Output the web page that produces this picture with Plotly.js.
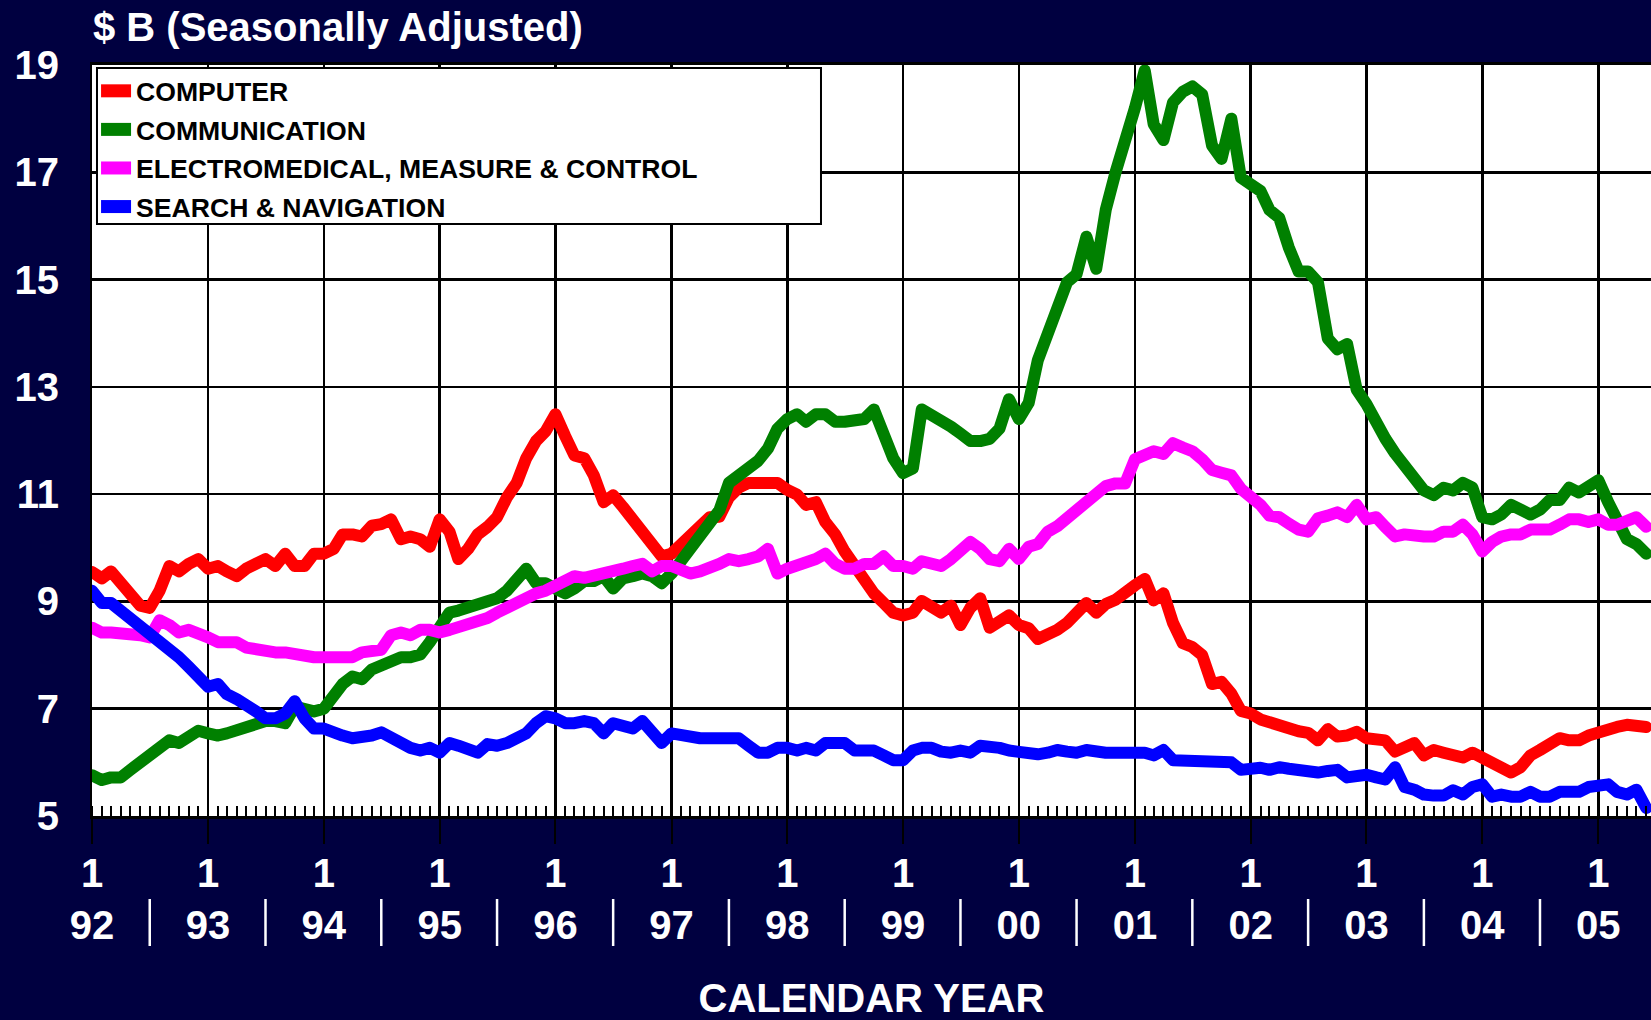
<!DOCTYPE html>
<html>
<head>
<meta charset="utf-8">
<script src="https://cdn.plot.ly/plotly-3.0.1.min.js"></script>
<style>
html, body { margin: 0; padding: 0; background: #000040; }
#chart { width: 1651px; height: 1020px; }
.scatterlayer .js-line { stroke-linejoin: round; stroke-linecap: round; }
.legend .legendlines path { stroke-width: 13px !important; }
</style>
</head>
<body>
<div id="chart"></div>
<script>
// ---- data (monthly, Jan 1992 .. Jun 2005), $ billions, seasonally adjusted ----
const startYear = 1992;
const yearLabels = ['92','93','94','95','96','97','98','99','00','01','02','03','04','05'];
const seriesNames = ['COMPUTER', 'COMMUNICATION', 'ELECTROMEDICAL, MEASURE & CONTROL', 'SEARCH & NAVIGATION'];

const computer = [
  9.55, 9.43, 9.56, 9.34, 9.11, 8.92, 8.88, 9.2, 9.66, 9.56,
  9.7, 9.79, 9.61, 9.66, 9.56, 9.47, 9.61, 9.7, 9.79, 9.66,
  9.89, 9.66, 9.66, 9.89, 9.89, 9.98, 10.25, 10.25, 10.21, 10.41,
  10.44, 10.53, 10.16, 10.21, 10.16, 10.02, 10.53, 10.3, 9.79, 9.98,
  10.25, 10.39, 10.57, 10.94, 11.21, 11.67, 11.99, 12.17, 12.49, 12.08,
  11.72, 11.67, 11.35, 10.85, 10.98, 10.76, 10.53, 10.3, 10.11, 9.84,
  9.89, 10.07, 10.16, 10.34, 10.57, 10.58, 10.94, 11.12, 11.21, 11.21,
  11.21, 11.21, 11.08, 10.99, 10.8, 10.85, 10.48, 10.25, 9.93, 9.66,
  9.38, 9.15, 8.97, 8.79, 8.74, 8.79, 9.01, 8.88, 8.79, 8.92,
  8.56, 8.88, 9.06, 8.51, 8.65, 8.74, 8.56, 8.5, 8.3, 8.36,
  8.47, 8.6, 8.75, 8.97, 8.79, 8.95, 9.03, 9.2, 9.3, 9.42,
  9.02, 9.15, 8.6, 8.22, 8.15, 8.0, 7.46, 7.5, 7.28, 6.96,
  6.91, 6.8, 6.74, 6.7, 6.62, 6.58, 6.55, 6.41, 6.62, 6.48,
  6.5, 6.57, 6.45, 6.41, 6.41, 6.2, 6.27, 6.36, 6.13, 6.23,
  6.18, 6.13, 6.09, 6.18, 6.09, 6.0, 5.91, 5.81, 5.91, 6.13,
  6.23, 6.32, 6.45, 6.41, 6.41, 6.5, 6.57, 6.61, 6.66, 6.7,
  6.66, 6.66
];

const communication = [
  5.76, 5.67, 5.72, 5.72, 5.86, 5.99, 6.13, 6.22, 6.41, 6.36,
  6.45, 6.59, 6.54, 6.5, 6.54, 6.59, 6.68, 6.73, 6.77, 6.77,
  6.73, 7.04, 7.0, 6.95, 7.0, 7.27, 7.46, 7.6, 7.55, 7.73,
  7.82, 7.87, 7.96, 7.96, 8.01, 8.24, 8.56, 8.79, 8.83, 8.88,
  8.92, 8.97, 9.06, 9.2, 9.43, 9.61, 9.34, 9.34, 9.24, 9.15,
  9.24, 9.38, 9.38, 9.47, 9.24, 9.43, 9.47, 9.52, 9.47, 9.34,
  9.52, 9.75, 9.98, 10.16, 10.43, 10.7, 11.21, 11.34, 11.48, 11.62,
  11.85, 12.22, 12.4, 12.49, 12.35, 12.49, 12.49, 12.35, 12.35, 12.35,
  12.4, 12.58, 12.03, 11.67, 11.39, 11.48, 12.58, 12.49, 12.4, 12.26,
  12.13, 11.99, 11.99, 12.03, 12.22, 12.77, 12.4, 12.7, 13.5, 14.0,
  14.6, 14.95, 15.1, 15.8, 15.2, 16.3, 17.0, 17.7, 18.2, 18.9,
  17.9, 17.6, 18.3, 18.5, 18.6, 18.45, 17.5, 17.25, 18.0, 16.9,
  16.8, 16.65, 16.3, 16.15, 15.6, 15.15, 15.15, 14.95, 13.9, 13.7,
  13.8, 12.95, 12.68, 12.31, 12.04, 11.76, 11.53, 11.3, 11.07, 10.98,
  11.12, 11.07, 11.21, 11.12, 10.57, 10.53, 10.62, 10.8, 10.71, 10.62,
  10.71, 10.89, 10.89, 11.12, 11.03, 11.12, 11.26, 10.85, 10.48, 10.16,
  10.07, 9.89
];

const electromedical = [
  8.51, 8.42, 8.42, 8.42, 8.37, 8.37, 8.33, 8.65, 8.56, 8.42,
  8.47, 8.42, 8.33, 8.24, 8.24, 8.24, 8.14, 8.1, 8.05, 8.05,
  8.05, 8.01, 7.96, 7.96, 7.96, 7.96, 8.01, 7.96, 8.05, 8.05,
  8.1, 8.37, 8.42, 8.37, 8.47, 8.47, 8.42, 8.47, 8.51, 8.6,
  8.6, 8.69, 8.79, 8.88, 9.01, 9.11, 9.15, 9.2, 9.29, 9.43,
  9.47, 9.44, 9.47, 9.52, 9.56, 9.61, 9.66, 9.7, 9.56, 9.66,
  9.66, 9.61, 9.52, 9.56, 9.61, 9.7, 9.79, 9.75, 9.79, 9.84,
  9.98, 9.52, 9.61, 9.66, 9.75, 9.79, 9.89, 9.7, 9.61, 9.61,
  9.7, 9.7, 9.84, 9.66, 9.66, 9.61, 9.75, 9.7, 9.66, 9.79,
  9.93, 10.11, 9.98, 9.79, 9.75, 9.98, 9.79, 10.02, 10.07, 10.3,
  10.4, 10.55, 10.7, 10.8, 11.0, 11.15, 11.2, 11.2, 11.65, 11.75,
  11.8, 11.75, 11.95, 11.87, 11.8, 11.65, 11.45, 11.4, 11.35, 11.1,
  10.98, 10.8, 10.6, 10.57, 10.45, 10.34, 10.3, 10.55, 10.6, 10.66,
  10.57, 10.8, 10.53, 10.57, 10.39, 10.21, 10.25, 10.21, 10.21, 10.21,
  10.3, 10.3, 10.43, 10.25, 9.93, 10.11, 10.21, 10.25, 10.25, 10.34,
  10.34, 10.34, 10.43, 10.53, 10.53, 10.48, 10.53, 10.43, 10.43, 10.48,
  10.57, 10.39
];

const searchNavigation = [
  9.2, 8.97, 8.97, 8.83, 8.69, 8.51, 8.42, 8.28, 8.1, 7.96,
  7.78, 7.6, 7.41, 7.46, 7.27, 7.18, 7.09, 6.95, 6.82, 6.82,
  6.91, 7.14, 6.82, 6.63, 6.63, 6.59, 6.5, 6.45, 6.45, 6.5,
  6.56, 6.45, 6.36, 6.27, 6.22, 6.27, 6.18, 6.36, 6.31, 6.27,
  6.18, 6.34, 6.31, 6.36, 6.45, 6.54, 6.73, 6.86, 6.82, 6.73,
  6.73, 6.77, 6.73, 6.54, 6.73, 6.68, 6.63, 6.77, 6.59, 6.36,
  6.54, 6.5, 6.45, 6.45, 6.45, 6.45, 6.45, 6.45, 6.31, 6.18,
  6.18, 6.27, 6.27, 6.22, 6.27, 6.22, 6.36, 6.38, 6.36, 6.22,
  6.22, 6.22, 6.13, 6.04, 6.04, 6.22, 6.27, 6.27, 6.2, 6.18,
  6.22, 6.18, 6.31, 6.31, 6.27, 6.22, 6.18, 6.15, 6.15, 6.18,
  6.23, 6.2, 6.18, 6.23, 6.18, 6.18, 6.18, 6.18, 6.23, 6.18,
  6.13, 6.23, 6.04, 6.04, 6.04, 6.04, 6.0, 6.0, 6.0, 5.86,
  5.88, 5.9, 5.86, 5.91, 5.88, 5.86, 5.8, 5.81, 5.84, 5.86,
  5.72, 5.77, 5.77, 5.72, 5.68, 5.91, 5.54, 5.49, 5.4, 5.38,
  5.38, 5.48, 5.4, 5.54, 5.59, 5.36, 5.4, 5.36, 5.36, 5.45,
  5.36, 5.36, 5.45, 5.45, 5.45, 5.54, 5.54, 5.59, 5.45, 5.4,
  5.49, 5.15
];

// ---- derived categories ----
const months = computer.map((_, i) => {
  const y = startYear + Math.floor(i / 12);
  const m = (i % 12) + 1;
  return y + '-' + String(m).padStart(2, '0') + '-01';
});
const janTicks = yearLabels.map((_, k) => (startYear + k) + '-01-01');
const tickText = yearLabels.map(lbl => '1<br>' + lbl);
const separatorDates = yearLabels.slice(1).map((_, k) => (startYear + k) + '-07-01');

const colors = ['#ff0000', '#008000', '#ff00ff', '#0000ff'];
const allSeries = [computer, communication, electromedical, searchNavigation];

const traces = allSeries.map((vals, i) => ({
  type: 'scatter',
  mode: 'lines',
  x: months,
  y: vals,
  name: seriesNames[i],
  legendgroup: 'g' + i,
  line: { color: colors[i], width: 12 },
  hoverinfo: 'skip'
}));

const FONT = 'Arial, "Liberation Sans", sans-serif';
const white = '#ffffff';

const shapes = [
  // legend box
  { type: 'rect', xref: 'paper', yref: 'paper', x0: 0.0032, x1: 0.4676, y0: 0.7883, y1: 0.996,
    fillcolor: '#ffffff', line: { color: '#000000', width: 2 }, layer: 'above' }
].concat(separatorDates.map(d => ({
  type: 'line', xref: 'x', yref: 'paper', x0: d, x1: d, y0: -0.1731, y1: -0.1105,
  line: { color: white, width: 2.5 }, layer: 'above'
})));

const layout = {
  width: 1651,
  height: 1020,
  paper_bgcolor: '#000040',
  plot_bgcolor: '#ffffff',
  margin: { l: 92, r: 0, t: 65, b: 204, pad: 0 },
  font: { family: FONT, color: white, weight: 'bold' },
  title: {
    text: '$ B (Seasonally Adjusted)',
    xref: 'container', yref: 'container',
    x: 93 / 1651, xanchor: 'left',
    y: 1 - 27 / 1020, yanchor: 'middle',
    font: { family: FONT, size: 40, color: white, weight: 'bold' }
  },
  showlegend: true,
  legend: {
    x: 0.0026, y: 0.9973, xanchor: 'left', yanchor: 'top',
    bgcolor: 'rgba(0,0,0,0)', borderwidth: 0,
    tracegroupgap: 1,
    font: { family: FONT, size: 26.6, color: '#000000', weight: 'bold' }
  },
  xaxis: {
    type: 'date',
    range: ['1992-01-01', '2005-06-16'],
    tickmode: 'array',
    tickvals: janTicks,
    ticktext: tickText,
    ticks: 'outside', ticklen: 25, tickwidth: 2, tickcolor: '#000000',
    ticklabelstandoff: -5,
    tickfont: { family: FONT, size: 40, color: white, weight: 'bold' },
    showgrid: true, gridcolor: '#000000', gridwidth: 2.5,
    showline: true, linecolor: '#000000', linewidth: 3, mirror: true,
    zeroline: false,
    minor: {
      tickmode: 'linear', tick0: '1992-01-01', dtick: 'M1',
      ticks: 'inside', ticklen: 10, tickwidth: 2, tickcolor: '#000000',
      showgrid: false
    },
    title: {
      text: 'CALENDAR YEAR',
      standoff: 48,
      font: { family: FONT, size: 40, color: white, weight: 'bold' }
    }
  },
  yaxis: {
    range: [5, 19],
    tickmode: 'linear', tick0: 5, dtick: 2,
    showgrid: true, gridcolor: '#000000', gridwidth: 2.5,
    zeroline: false,
    showline: true, linecolor: '#000000', linewidth: 2,
    ticks: '',
    ticklabelstandoff: 23,
    tickfont: { family: FONT, size: 40, color: white, weight: 'bold' }
  },
  shapes: shapes
};

Plotly.newPlot('chart', traces, layout, { displayModeBar: false, staticPlot: true });
</script>
</body>
</html>
